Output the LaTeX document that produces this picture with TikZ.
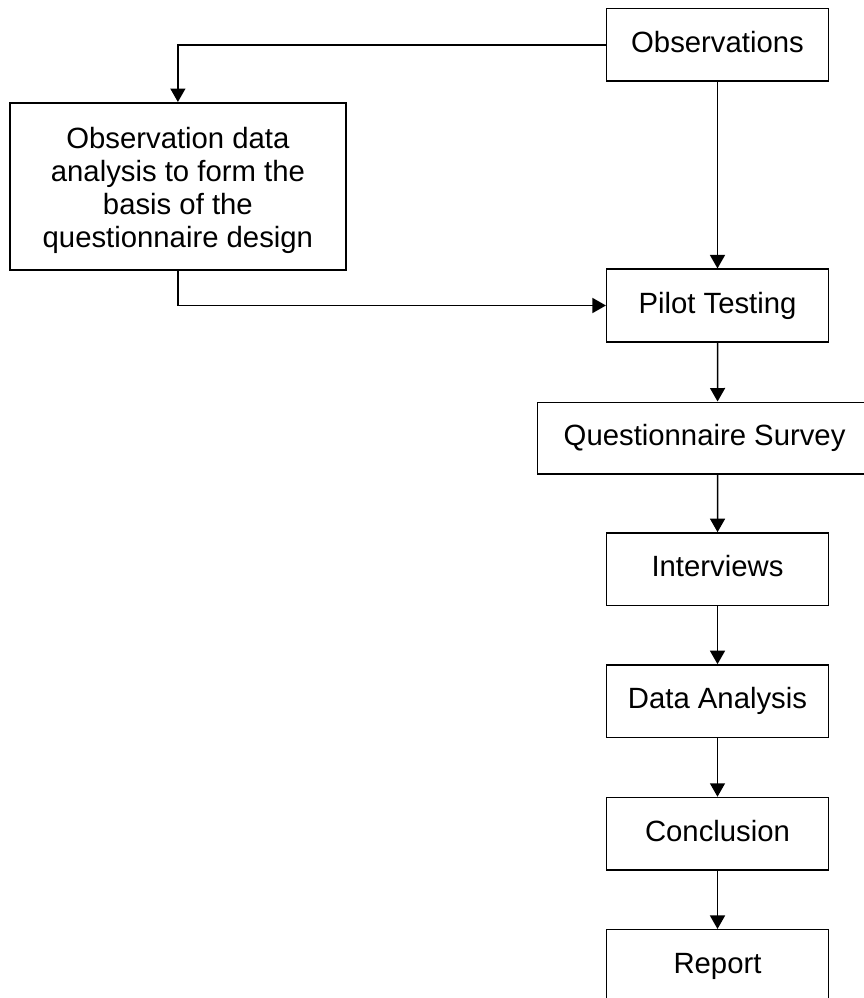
\documentclass[tikz,border=0pt]{standalone}
\usepackage{fontspec}
\setmainfont{Liberation Sans}
\usetikzlibrary{arrows.meta}
\begin{document}
\begin{tikzpicture}[x=1pt,y=-1pt,
  txt/.style={font=\fontsize{29.3}{33}\selectfont},
  box/.style={draw, line width=1.5pt, inner sep=0pt, minimum width=221.6pt, minimum height=72.6pt,
    txt, text height=22pt, text depth=7pt},
  bigbox/.style={draw, line width=1.5pt, inner sep=0pt, minimum width=335.7pt, minimum height=167.3pt},
  arr/.style={line width=1.5pt, -{Triangle[length=13.5pt,width=15pt]}}]
\useasboundingbox (0,0) rectangle (864,998);
\clip (0,0) rectangle (864,998);
\node[box] (obs) at (717.5,44.8) {Observations};
\node[bigbox] (ana) at (177.9,186.4) {};
\node[txt, align=center, inner sep=0pt] (anatext) at (177.9,190.5) {Observation data\\analysis to form the\\basis of the\\questionnaire design};
\node[box] (pilot) at (717.5,305.5) {Pilot Testing};
\node[box, minimum width=360.7pt, minimum height=71.7pt] (qs) at (717.6,438.1) {\hspace*{-26pt}Questionnaire Survey};
\node[box] (int) at (717.5,569.2) {Interviews};
\node[box] (da) at (717.5,701.2) {Data Analysis};
\node[box] (conc) at (717.5,833.8) {Conclusion};
\node[box] (rep) at (717.5,966) {Report};
\draw[arr] (obs.west) -| (ana.north);
\draw[arr] (obs) -- (pilot);
\draw[arr] (ana.south) |- (pilot.west);
\draw[arr] (pilot) -- (qs);
\draw[arr] (qs) -- (int);
\draw[arr] (int) -- (da);
\draw[arr] (da) -- (conc);
\draw[arr] (conc) -- (rep);
\end{tikzpicture}
\end{document}
